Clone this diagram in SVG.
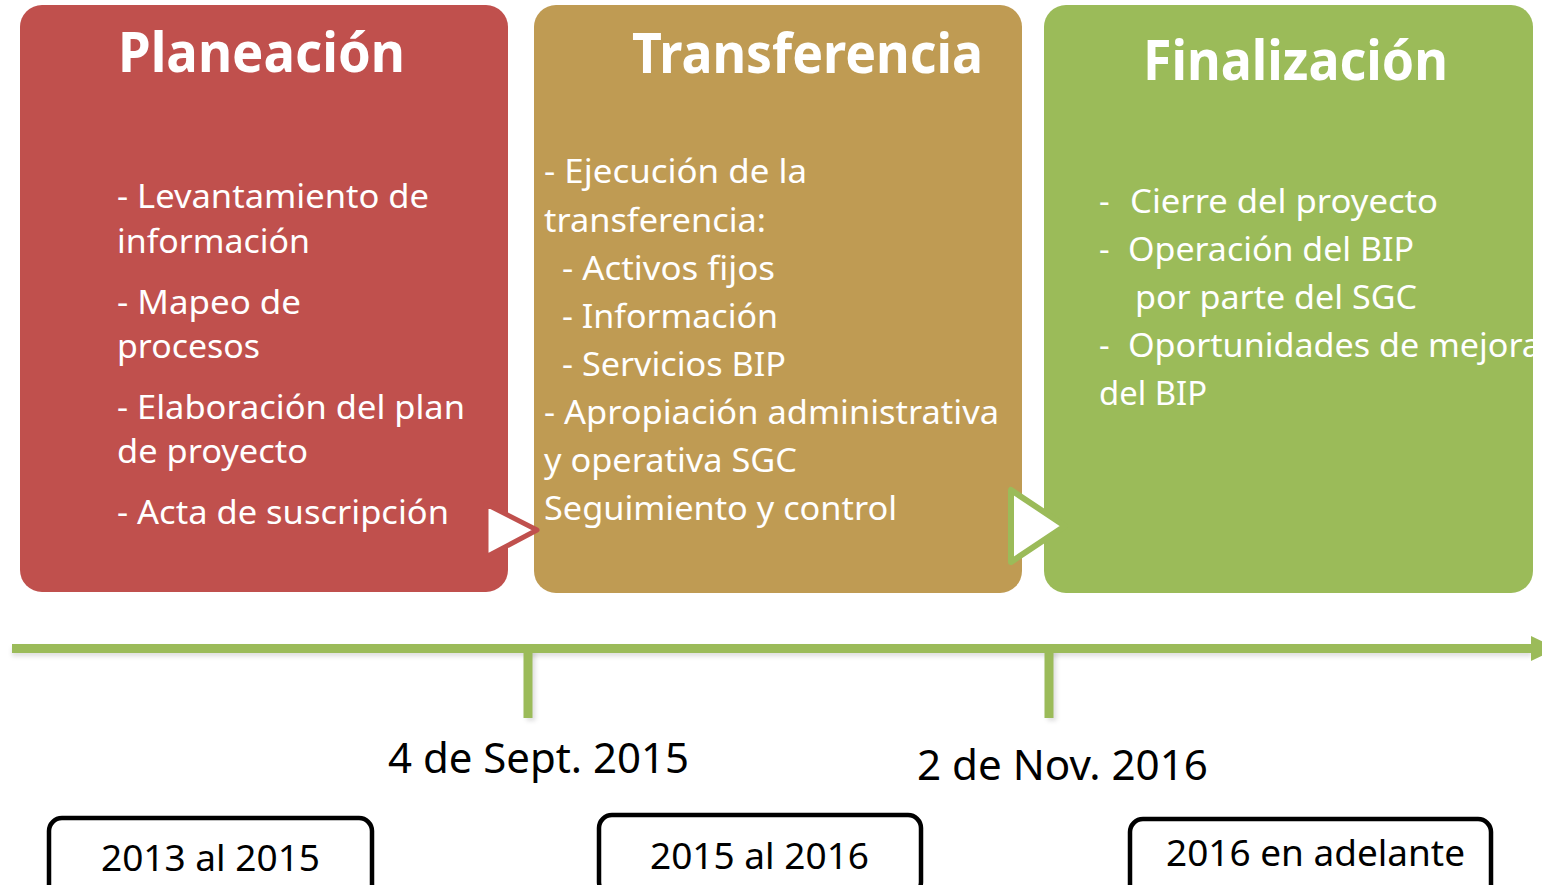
<svg xmlns="http://www.w3.org/2000/svg" width="1542" height="885" viewBox="0 0 1542 885">
<style>
.t{font-family:"Noto Sans","Open Sans",sans-serif;fill:#fff;}
.h{font-size:56px;font-weight:bold;}
.b{font-size:33px;}
.d{font-family:"Noto Sans","Open Sans",sans-serif;fill:#000;font-size:42px;}
.y{font-family:"Noto Sans","Open Sans",sans-serif;fill:#000;font-size:36px;}
.box{fill:#fff;stroke:#000;stroke-width:4.5;}
.tl{stroke:#9BBB59;stroke-width:9;fill:none;}
.sh{stroke:#000;stroke-opacity:0.12;stroke-width:9;fill:none;}
</style>
<defs>
<filter id="blur" x="-5%" y="-50%" width="110%" height="200%"><feGaussianBlur stdDeviation="2"/></filter>
</defs>
<rect width="1542" height="885" fill="#fff"/>

<g id="planeacion">
<rect x="20" y="5" width="488" height="587" rx="22" fill="#C0504D"/>
<text class="t h" x="118" y="72" textLength="287" lengthAdjust="spacingAndGlyphs">Planeación</text>
<text class="t b" x="117" y="208" textLength="312" lengthAdjust="spacingAndGlyphs">- Levantamiento de</text>
<text class="t b" x="117" y="253" textLength="193" lengthAdjust="spacingAndGlyphs">información</text>
<text class="t b" x="117" y="314" textLength="184" lengthAdjust="spacingAndGlyphs">- Mapeo de</text>
<text class="t b" x="117" y="358" textLength="143" lengthAdjust="spacingAndGlyphs">procesos</text>
<text class="t b" x="117" y="419" textLength="348" lengthAdjust="spacingAndGlyphs">- Elaboración del plan</text>
<text class="t b" x="117" y="463" textLength="191" lengthAdjust="spacingAndGlyphs">de proyecto</text>
<text class="t b" x="117" y="524" textLength="332" lengthAdjust="spacingAndGlyphs">- Acta de suscripción</text>
</g>

<g id="transferencia">
<rect x="534" y="5" width="488" height="588" rx="22" fill="#BF9B53"/>
<text class="t h" x="632" y="73" textLength="351" lengthAdjust="spacingAndGlyphs">Transferencia</text>
<text class="t b" x="544" y="183" textLength="263" lengthAdjust="spacingAndGlyphs">- Ejecución de la</text>
<text class="t b" x="544" y="232" textLength="222" lengthAdjust="spacingAndGlyphs">transferencia:</text>
<text class="t b" x="562" y="280" textLength="213" lengthAdjust="spacingAndGlyphs">- Activos fijos</text>
<text class="t b" x="562" y="328" textLength="216" lengthAdjust="spacingAndGlyphs">- Información</text>
<text class="t b" x="562" y="376" textLength="224" lengthAdjust="spacingAndGlyphs">- Servicios BIP</text>
<text class="t b" x="544" y="424" textLength="455" lengthAdjust="spacingAndGlyphs">- Apropiación administrativa</text>
<text class="t b" x="544" y="472" textLength="253" lengthAdjust="spacingAndGlyphs">y operativa SGC</text>
<text class="t b" x="544" y="520" textLength="353" lengthAdjust="spacingAndGlyphs">Seguimiento y control</text>
</g>

<g id="finalizacion">
<rect x="1044" y="5" width="489" height="588" rx="22" fill="#9BBB59"/>
<text class="t h" x="1143" y="80" textLength="305" lengthAdjust="spacingAndGlyphs">Finalización</text>
<text class="t b" x="1099" y="213">-</text>
<text class="t b" x="1130" y="213" textLength="308" lengthAdjust="spacingAndGlyphs">Cierre del proyecto</text>
<text class="t b" x="1099" y="261">-</text>
<text class="t b" x="1128" y="261" textLength="286" lengthAdjust="spacingAndGlyphs">Operación del BIP</text>
<text class="t b" x="1135" y="309" textLength="282" lengthAdjust="spacingAndGlyphs">por parte del SGC</text>
<text class="t b" x="1099" y="357">-</text>
<text class="t b" x="1128" y="357" textLength="413" lengthAdjust="spacingAndGlyphs">Oportunidades de mejora</text>
<text class="t b" x="1099" y="405" textLength="108" lengthAdjust="spacingAndGlyphs">del BIP</text>
</g>

<g id="connectors">
<polygon points="486,504 486,557 537,530" fill="#fff" stroke="#C0504D" stroke-width="5" stroke-linejoin="round"/>
<polygon points="1011,490 1011,562 1065,526" fill="#fff" stroke="#9BBB59" stroke-width="6" stroke-linejoin="round"/>
<g id="timeline">
<g filter="url(#blur)">
<line class="sh" x1="12" y1="652" x2="1532" y2="652"/>
<line class="sh" x1="531" y1="652" x2="531" y2="721"/>
<line class="sh" x1="1052" y1="652" x2="1052" y2="721"/>
</g>
<line class="tl" x1="12" y1="648.5" x2="1533" y2="648.5"/>
<polygon points="1531,636 1531,661 1557,648.5" fill="#9BBB59"/>
<line class="tl" x1="528" y1="648" x2="528" y2="718" stroke-width="7"/>
<line class="tl" x1="1049" y1="648" x2="1049" y2="718" stroke-width="7"/>
</g>
</g>

<g id="date1">
<text class="d" x="388" y="773" textLength="301" lengthAdjust="spacingAndGlyphs">4 de Sept. 2015</text>
</g>
<g id="date2">
<text class="d" x="917" y="780" textLength="291" lengthAdjust="spacingAndGlyphs">2 de Nov. 2016</text>
</g>

<g id="period1">
<rect class="box" x="49" y="818" width="323" height="80" rx="13"/>
<text class="y" x="101" y="871" textLength="219" lengthAdjust="spacingAndGlyphs">2013 al 2015</text>
</g>
<g id="period2">
<rect class="box" x="599" y="815" width="322" height="80" rx="13"/>
<text class="y" x="650" y="869" textLength="219" lengthAdjust="spacingAndGlyphs">2015 al 2016</text>
</g>
<g id="period3">
<rect class="box" x="1130" y="819" width="361" height="80" rx="13"/>
<text class="y" x="1166" y="866" textLength="299" lengthAdjust="spacingAndGlyphs">2016 en adelante</text>
</g>
</svg>
